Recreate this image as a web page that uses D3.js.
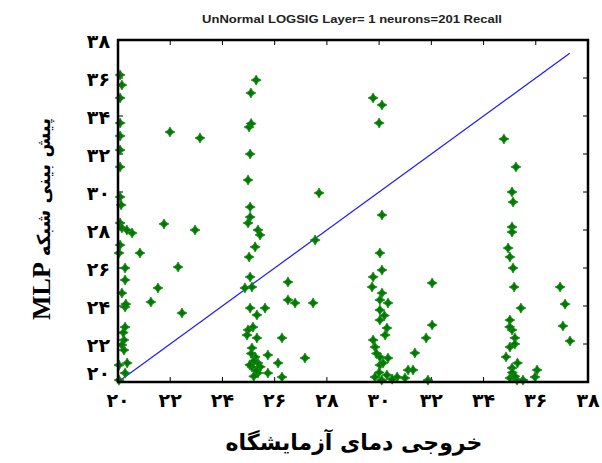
<!DOCTYPE html>
<html>
<head>
<meta charset="utf-8">
<script src="https://cdnjs.cloudflare.com/ajax/libs/d3/7.8.5/d3.min.js"></script>
<style>
  html, body { margin: 0; padding: 0; background: #fff; }
  svg { display: block; }
</style>
</head>
<body>
<svg id="chart" width="602" height="463"></svg>
<script>
// Measured lab temperature (x) vs. MLP network prediction (y)
const observed = [
  20.08, 20.15, 20.08, 20.08, 20.08, 20.08, 20.08, 20.08, 20.12, 20.08,
  20.15, 20.34, 20.54, 20.08, 20.04, 20.27, 20.27, 20.15, 20.27, 20.27,
  20.23, 20.15, 20.23, 20.04, 20.27, 20.04, 20.30, 20.20, 20.35,
  21.76, 22.95, 20.84, 22.30, 21.53, 21.26, 22.45, 21.99, 23.14,
  27.70, 27.55, 26.51, 26.51, 26.78, 27.47, 26.28, 27.16, 26.28, 26.13,
  25.74, 25.74,
  25.29, 25.09, 25.02, 25.10, 25.06, 24.98, 25.06, 25.06, 24.98, 25.36,
  25.44, 25.25, 25.02, 25.06, 25.13, 24.86, 25.06, 25.63, 25.32, 25.17,
  24.98, 24.94, 25.32, 25.13, 25.25, 25.36, 25.13, 25.36, 25.20, 25.05, 25.30,
  25.20, 25.45, 25.10,
  29.77, 30.11, 30.00, 30.11, 30.03, 30.11, 29.77, 29.73, 30.11, 30.03,
  30.34, 30.03, 30.03, 30.30, 30.23, 29.77, 29.84, 30.03, 30.34, 30.03,
  30.15, 29.84, 30.30, 30.00, 30.69, 30.99, 31.11, 31.30, 32.03, 32.03,
  31.80, 31.37, 31.87, 30.10, 30.50, 29.90, 30.20,
  34.78, 35.24, 35.09, 35.13, 35.09, 35.09, 34.94, 35.01, 35.13, 35.17,
  35.43, 35.01, 35.09, 35.20, 35.01, 34.86, 35.09, 35.01, 35.28, 35.51,
  36.05, 35.97, 36.93, 37.12, 37.04, 37.31, 35.20, 35.10, 35.20, 35.00, 35.30
];
const predicted = [
  36.16, 35.63, 34.95, 33.63, 32.95, 32.21, 31.32, 29.74, 29.32, 28.37,
  28.11, 28.00, 27.84, 27.21, 26.79, 26.00, 25.37, 24.68, 23.95, 22.89,
  22.21, 21.95, 21.68, 20.89, 20.47, 20.10, 24.10, 22.60, 21.00,
  28.32, 28.00, 26.79, 26.05, 24.95, 24.21, 23.63, 33.16, 32.84,
  29.95, 27.47, 25.26, 24.32, 24.16, 24.16, 22.32, 21.26, 20.26, 21.00,
  21.42, 20.47,
  35.89, 35.21, 33.42, 33.60, 32.00, 30.63, 29.21, 28.68, 28.37, 28.00,
  27.74, 27.11, 26.58, 25.53, 25.00, 24.95, 23.89, 23.89, 23.53, 22.89,
  22.74, 22.47, 22.32, 21.79, 21.32, 21.00, 20.79, 20.47, 21.10, 20.90, 20.60,
  20.30, 20.80, 21.50,
  34.95, 34.58, 33.63, 28.79, 26.79, 25.89, 25.53, 25.00, 24.68, 24.32,
  24.16, 23.79, 23.26, 22.84, 22.47, 22.21, 21.84, 21.32, 21.26, 20.89,
  21.00, 20.26, 20.37, 20.50, 20.26, 20.21, 20.63, 20.63, 25.21, 23.00,
  22.32, 21.53, 20.10, 20.10, 20.15, 21.50, 23.50,
  32.79, 31.32, 30.00, 29.47, 28.16, 27.89, 27.05, 26.58, 26.00, 25.00,
  23.89, 23.26, 22.74, 22.32, 21.84, 21.32, 20.74, 20.21, 20.10, 20.10,
  20.63, 20.26, 25.00, 24.10, 22.95, 22.16, 22.00, 20.50, 20.30, 22.90, 21.00
];

// Ideal-fit reference line (y = x)
const fitLine = [20, 37.3];

const xTicks = [20, 22, 24, 26, 28, 30, 32, 34, 36, 38];
const yTicks = [20, 22, 24, 26, 28, 30, 32, 34, 36, 38];
const xTickLabels = ["۲۰", "۲۲", "۲۴", "۲۶", "۲۸", "۳۰", "۳۲", "۳۴", "۳۶", "۳۸"];
const yTickLabels = ["۲۰", "۲۲", "۲۴", "۲۶", "۲۸", "۳۰", "۳۲", "۳۴", "۳۶", "۳۸"];

const titleText = "UnNormal LOGSIG Layer= 1 neurons=201 Recall";
const xLabelText = "خروجی دمای آزمایشگاه";
const yLabelFa = "پیش بینی شبکه";
const yLabelEn = "MLP";

const svg = d3.select("#chart");
const plot = { left: 118, right: 588, top: 40, bottom: 382 };

const x = d3.scaleLinear().domain([20, 38]).range([plot.left, plot.right]);
const y = d3.scaleLinear().domain([20, 38]).range([plot.bottom, plot.top]);

const faFont = "'DejaVu Sans', sans-serif";

// Tick marks on all four sides, pointing inward
const tickLen = 5;
const ticks = svg.append("g").attr("stroke", "#000").attr("stroke-width", 1);
xTicks.forEach(t => {
  ticks.append("line").attr("x1", x(t)).attr("x2", x(t))
    .attr("y1", plot.bottom).attr("y2", plot.bottom - tickLen);
  ticks.append("line").attr("x1", x(t)).attr("x2", x(t))
    .attr("y1", plot.top).attr("y2", plot.top + tickLen);
});
yTicks.forEach(t => {
  ticks.append("line").attr("y1", y(t)).attr("y2", y(t))
    .attr("x1", plot.left).attr("x2", plot.left + tickLen);
  ticks.append("line").attr("y1", y(t)).attr("y2", y(t))
    .attr("x1", plot.right).attr("x2", plot.right - tickLen);
});

// Fit line
svg.append("line")
  .attr("x1", x(fitLine[0])).attr("y1", y(fitLine[0]))
  .attr("x2", x(fitLine[1])).attr("y2", y(fitLine[1]))
  .attr("stroke", "#1a1aff").attr("stroke-width", 1.2);

// Four-pointed star marker
const sparkle = {
  draw(ctx, size) {
    const r = Math.sqrt(size) * 0.62;
    const ri = r * 0.5;
    for (let k = 0; k < 8; k++) {
      const a = k * Math.PI / 4 - Math.PI / 2;
      const rad = k % 2 === 0 ? r : ri;
      const px = rad * Math.cos(a), py = rad * Math.sin(a);
      if (k === 0) ctx.moveTo(px, py); else ctx.lineTo(px, py);
    }
    ctx.closePath();
  }
};
const marker = d3.symbol().type(sparkle).size(66);
svg.append("g").selectAll("path")
  .data(observed.map((v, i) => [v, predicted[i]]))
  .join("path")
  .attr("d", marker)
  .attr("transform", d => `translate(${x(d[0])},${y(d[1])})`)
  .attr("fill", "#007a00")
  .attr("stroke", "#1b8a1b")
  .attr("stroke-width", 0.8);

// Frame
svg.append("rect")
  .attr("x", plot.left).attr("y", plot.top)
  .attr("width", plot.right - plot.left).attr("height", plot.bottom - plot.top)
  .attr("fill", "none").attr("stroke", "#000").attr("stroke-width", 2.5);

// Tick labels
svg.append("g").selectAll("text")
  .data(xTicks)
  .join("text")
  .attr("x", d => x(d))
  .attr("y", plot.bottom + 25)
  .attr("text-anchor", "middle")
  .attr("font-family", faFont)
  .attr("font-weight", "bold")
  .attr("font-size", 19)
  .text((d, i) => xTickLabels[i]);

svg.append("g").selectAll("text")
  .data(yTicks)
  .join("text")
  .attr("x", plot.left - 8)
  .attr("y", d => y(d) + (d === 20 ? -2 : 8))
  .attr("text-anchor", "end")
  .attr("font-family", faFont)
  .attr("font-weight", "bold")
  .attr("font-size", 19)
  .text((d, i) => yTickLabels[i]);

// Title
svg.append("text")
  .attr("x", 352).attr("y", 23)
  .attr("text-anchor", "middle")
  .attr("font-family", "'Liberation Sans', Arial, sans-serif")
  .attr("font-weight", "bold")
  .attr("font-size", 11)
  .attr("fill", "#222")
  .attr("textLength", 300)
  .attr("lengthAdjust", "spacingAndGlyphs")
  .text(titleText);

// X axis label
svg.append("text")
  .attr("x", 354).attr("y", 450)
  .attr("text-anchor", "middle")
  .attr("font-family", faFont)
  .attr("font-weight", "bold")
  .attr("font-size", 22)
  .text(xLabelText);

// Y axis label: "MLP" at the bottom, Persian words above it
const yl = svg.append("g").attr("transform", "rotate(-90)");
const mlp = yl.append("text")
  .attr("x", -320).attr("y", 50)
  .attr("font-family", "'Liberation Serif', 'Times New Roman', serif")
  .attr("font-weight", "bold")
  .attr("font-size", 26)
  .text(yLabelEn);
const mlpLen = mlp.node().getComputedTextLength();
yl.append("text")
  .attr("x", -320 + mlpLen + 6).attr("y", 50)
  .attr("font-family", faFont)
  .attr("font-weight", "bold")
  .attr("font-size", 18)
  .text(yLabelFa);
</script>
</body>
</html>
